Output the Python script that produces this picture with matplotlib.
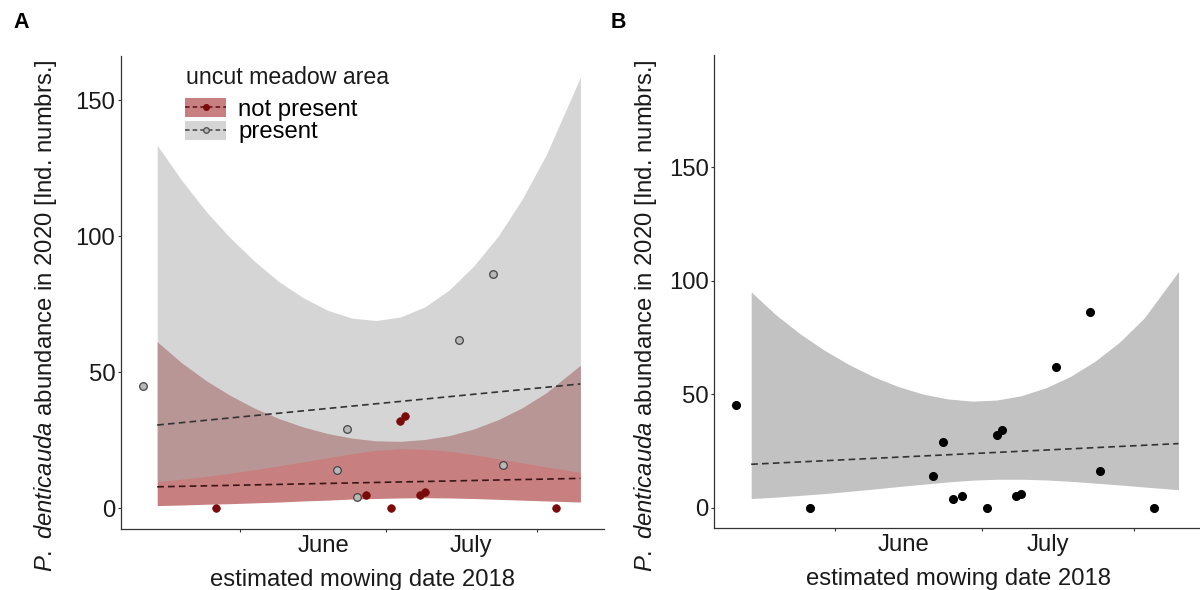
import numpy as np
import pandas as pd
import matplotlib
matplotlib.use('Agg')
import matplotlib.pyplot as plt
from matplotlib.patches import Patch
from matplotlib.lines import Line2D

plt.rcParams['font.family'] = ['Liberation Sans', 'DejaVu Sans']
plt.rcParams['mathtext.fontset'] = 'custom'
plt.rcParams['mathtext.it'] = 'Liberation Sans:italic'
plt.rcParams['mathtext.rm'] = 'Liberation Sans'

# observed sites (mowing date 2018, abundance 2020, uncut area)
mow_dates = pd.to_datetime(['2018-05-12', '2018-05-27', '2018-06-21', '2018-06-23', '2018-06-25',
                            '2018-06-27', '2018-07-02', '2018-07-04', '2018-07-05', '2018-07-08',
                            '2018-07-09', '2018-07-16', '2018-07-23', '2018-07-25', '2018-08-05'])
abundance = [45, 0, 14, 29, 4, 5, 0, 32, 34, 5, 6, 62, 86, 16, 0]
uncut = ['present', 'not present', 'present', 'present', 'present',
         'not present', 'not present', 'not present', 'not present', 'not present',
         'not present', 'present', 'present', 'present', 'not present']

# model fits and confidence bands
band_dates = pd.to_datetime(['2018-05-15', '2018-05-20', '2018-05-25', '2018-05-30', '2018-06-04',
                             '2018-06-09', '2018-06-14', '2018-06-19', '2018-06-24', '2018-06-29',
                             '2018-07-04', '2018-07-09', '2018-07-14', '2018-07-19', '2018-07-24',
                             '2018-07-29', '2018-08-03', '2018-08-10'])
fit_dates = pd.to_datetime(['2018-05-15', '2018-08-10'])

present_fit = [30.6, 45.7]
present_upper = [133.4, 120.6, 109.2, 99.4, 90.8, 83.3, 77.4, 72.8, 69.9, 69.0, 70.3, 74.0, 80.2, 88.9, 99.8, 113.5, 130.0, 158.4]
present_lower = [9.8, 10.7, 11.7, 12.9, 14.2, 15.6, 17.1, 18.6, 20.1, 21.3, 21.9, 21.7, 21.0, 19.7, 18.3, 16.7, 15.2, 13.2]

absent_fit = [7.9, 11.0]
absent_upper = [61.2, 53.5, 47.0, 41.5, 36.8, 33.0, 29.9, 27.5, 25.8, 24.8, 24.6, 25.3, 26.7, 29.1, 32.5, 36.9, 42.5, 52.6]
absent_lower = [1.0, 1.2, 1.5, 1.7, 2.0, 2.3, 2.7, 3.0, 3.4, 3.6, 3.8, 3.9, 3.8, 3.6, 3.3, 3.0, 2.7, 2.3]

all_fit = [19.1, 28.2]
all_upper = [95.0, 85.0, 76.5, 69.2, 62.9, 57.6, 53.3, 50.0, 47.9, 46.9, 47.4, 49.3, 52.8, 57.8, 64.5, 72.9, 83.5, 104.0]
all_lower = [4.0, 4.6, 5.4, 6.2, 7.2, 8.2, 9.3, 10.3, 11.3, 12.1, 12.5, 12.5, 12.2, 11.6, 10.8, 10.0, 9.1, 7.9]

month_ticks = pd.to_datetime(['2018-06-01', '2018-07-01', '2018-08-01'])
month_labels = ['June', 'July']
label_pos_a = pd.to_datetime(['2018-06-18 02:00', '2018-07-18 14:00'])
label_pos_b = pd.to_datetime(['2018-06-15 00:00', '2018-07-14 10:00'])
x_range = pd.to_datetime(['2018-05-07 12:00', '2018-08-14 19:00'])

RED = '#910000'
GREY = '#adadad'
FS = 17.2
TXT = '#1a1a1a'

ylab = r'$\mathit{P.\ denticauda}$ abundance in 2020 [Ind. numbrs.]'
xlab = 'estimated mowing date 2018'


def style_axes(ax, ylim, label_pos, ylab_x):
    for s in ['top', 'right']:
        ax.spines[s].set_visible(False)
    for s in ['left', 'bottom']:
        ax.spines[s].set_color('#333333')
        ax.spines[s].set_linewidth(0.9)
    ax.set_xlim(x_range[0], x_range[1])
    ax.set_ylim(*ylim)
    ax.set_yticks([0, 50, 100, 150])
    ax.set_xticks(month_ticks)
    ax.set_xticklabels([])
    ax.set_xticks(label_pos, minor=True)
    ax.set_xticklabels(month_labels, minor=True)
    ax.tick_params(axis='both', which='major', length=2.5, width=0.8, color='#333333',
                   labelsize=FS, labelcolor=TXT, pad=1.5)
    ax.tick_params(axis='x', which='minor', length=0, labelsize=FS, labelcolor=TXT, pad=4)
    ax.set_ylabel(ylab, fontsize=FS, color=TXT)
    ax.yaxis.set_label_coords(ylab_x, 0.45)
    ax.set_xlabel(xlab, fontsize=FS, color=TXT, labelpad=9)


fig = plt.figure(figsize=(12, 5.9), dpi=100)

# panel A
axA = fig.add_axes([0.1006, 0.1034, 0.4025, 0.8022])
axA.fill_between(band_dates, absent_lower, absent_upper, color=RED, alpha=0.5, lw=0)
axA.fill_between(band_dates, present_lower, present_upper, color=GREY, alpha=0.5, lw=0)
axA.plot(fit_dates, present_fit, ls=(0, (4, 2.5)), color='#333333', lw=1.2)
axA.plot(fit_dates, absent_fit, ls=(0, (4, 2.5)), color='#3a1515', lw=1.2)
for d, v, u in zip(mow_dates, abundance, uncut):
    if u == 'present':
        axA.plot(d, v, 'o', ms=5.5, mfc='#b8b8b8', mec='#444444', mew=0.9, zorder=5)
    else:
        axA.plot(d, v, 'o', ms=5.5, mfc='#7a0a0a', mec='#7a0a0a', mew=0.5, zorder=5)
style_axes(axA, (-7.6, 166.3), label_pos_a, -0.128)

h_absent = (Patch(facecolor=RED, alpha=0.5, lw=0),
            Line2D([], [], ls=(0, (3, 2)), color='#5a1010', lw=1.1,
                   marker='o', ms=4, mfc='#7a0a0a', mec='#7a0a0a'))
h_present = (Patch(facecolor=GREY, alpha=0.5, lw=0),
             Line2D([], [], ls=(0, (3, 2)), color='#444444', lw=1.1,
                    marker='o', ms=4, mfc='#b8b8b8', mec='#555555'))
fig.text(186 / 1200, 1 - 77 / 590, 'uncut meadow area', fontsize=16.7, color=TXT, va='center')
axA.legend([h_absent, h_present], ['not present', 'present'],
           loc='upper left', bbox_to_anchor=(185 / 1200, 1 - 98 / 590),
           bbox_transform=fig.transFigure, frameon=False, fontsize=FS,
           borderpad=0, borderaxespad=0, handlelength=1.72, handleheight=0.84,
           handletextpad=0.5, labelspacing=0.0)

# panel B
axB = fig.add_axes([0.5953, 0.1046, 0.4064, 0.8022])
axB.fill_between(band_dates, all_lower, all_upper, color='#c2c2c2', lw=0)
axB.plot(fit_dates, all_fit, ls=(0, (4, 2.5)), color='#333333', lw=1.2)
axB.plot(mow_dates, abundance, 'o', ms=5.5, color='black', zorder=5)
style_axes(axB, (-9.1, 199.4), label_pos_b, -0.113)

fig.text(13 / 1200, 1 - 23 / 590, 'A', fontsize=15.5, fontweight='bold', va='center')
fig.text(611 / 1200, 1 - 23 / 590, 'B', fontsize=15.5, fontweight='bold', va='center')

fig.savefig('out.png', dpi=100)
